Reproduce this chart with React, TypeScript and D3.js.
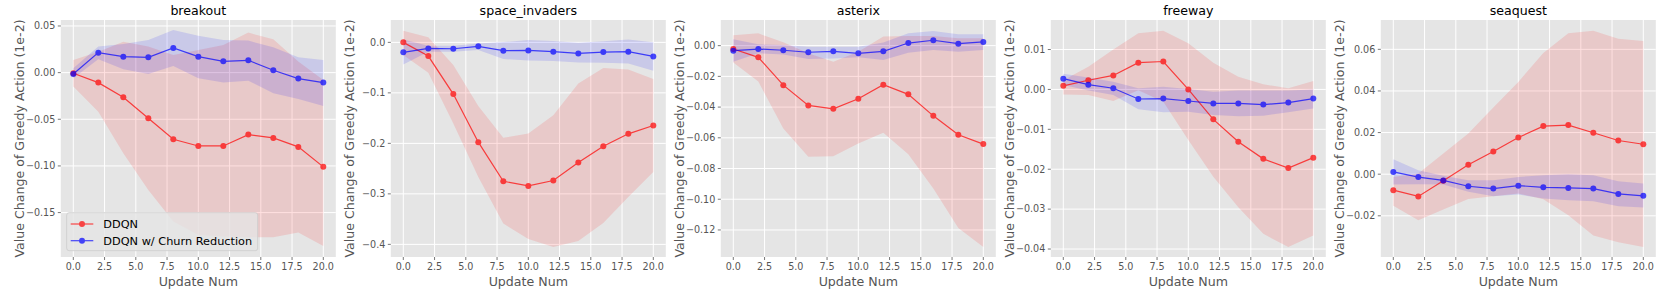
import * as d3 from "d3";

// x positions (update number)
const updateNums = [0, 2, 4, 6, 8, 10, 12, 14, 16, 18, 20];
const xTicks = [0, 2.5, 5, 7.5, 10, 12.5, 15, 17.5, 20];

const games = ["breakout", "space_invaders", "asterix", "freeway", "seaquest"];

// breakout
const breakoutDdqn = [-0.0007, -0.0107, -0.0264, -0.0489, -0.0714, -0.0786, -0.0786, -0.0664, -0.07, -0.0796, -0.101];
const breakoutDdqnHi = [0.0136, 0.0225, 0.0332, 0.0279, 0.0189, 0.0243, 0.0296, 0.0429, 0.0357, 0.0118, -0.0079];
const breakoutDdqnLo = [-0.015, -0.0418, -0.0864, -0.1257, -0.1596, -0.1739, -0.1757, -0.1764, -0.1764, -0.1714, -0.1857];
const breakoutChurn = [-0.0014, 0.0214, 0.0171, 0.0164, 0.0264, 0.0171, 0.0121, 0.0132, 0.0025, -0.0064, -0.0107];
const breakoutChurnHi = [0.0046, 0.0279, 0.0307, 0.035, 0.0457, 0.0396, 0.035, 0.0343, 0.0271, 0.0164, 0.0136];
const breakoutChurnLo = [-0.0061, 0.0143, 0.0036, -0.0014, 0.0071, -0.0061, -0.0107, -0.0086, -0.0221, -0.0282, -0.0357];
const breakoutYLim = [-0.1976, 0.0564];
const breakoutYTicks = [-0.15, -0.1, -0.05, 0, 0.05];

// space_invaders
const spaceDdqn = [0, -0.0271, -0.1024, -0.1976, -0.275, -0.2842, -0.2736, -0.2379, -0.2056, -0.1811, -0.1646];
const spaceDdqnHi = [0.0231, 0.0099, -0.0449, -0.1262, -0.189, -0.1804, -0.1441, -0.0813, -0.0509, -0.0535, -0.0727];
const spaceDdqnLo = [-0.0251, -0.0601, -0.1606, -0.2664, -0.3589, -0.3893, -0.4051, -0.3932, -0.3576, -0.3061, -0.2565];
const spaceChurn = [-0.0198, -0.0119, -0.0126, -0.0079, -0.0165, -0.0159, -0.0185, -0.0218, -0.0192, -0.0185, -0.0278];
const spaceChurnHi = [0.0059, -0.0066, -0.0066, -0.002, 0.0007, 0.0046, 0.0026, -0.0007, 0.002, 0.0059, 0];
const spaceChurnLo = [-0.0436, -0.0185, -0.0185, -0.0152, -0.033, -0.0357, -0.037, -0.0397, -0.0403, -0.0416, -0.0562];
const spaceYLim = [-0.425, 0.0443];
const spaceYTicks = [-0.4, -0.3, -0.2, -0.1, 0];

// asterix
const asterixDdqn = [-0.0022, -0.0076, -0.0257, -0.0389, -0.0411, -0.0346, -0.0254, -0.0317, -0.0457, -0.058, -0.0641];
const asterixDdqnHi = [0.0067, 0.008, 0.0022, -0.005, -0.0104, -0.0039, 0.0059, 0.0063, 0.0063, 0.0048, 0.0048];
const asterixDdqnLo = [-0.0109, -0.0233, -0.0539, -0.0724, -0.072, -0.0637, -0.0567, -0.0707, -0.093, -0.1187, -0.1311];
const asterixChurn = [-0.0033, -0.0022, -0.003, -0.0043, -0.0037, -0.005, -0.0037, 0.0017, 0.0035, 0.0013, 0.0024];
const asterixChurnHi = [0.0041, 0.0009, 0.0004, -0.0007, -0.0007, -0.0007, 0.002, 0.008, 0.0096, 0.0074, 0.0074];
const asterixChurnLo = [-0.0104, -0.005, -0.0057, -0.0087, -0.0083, -0.0076, -0.0093, -0.0046, -0.0028, -0.0039, -0.0028];
const asterixYLim = [-0.1376, 0.0167];
const asterixYTicks = [-0.12, -0.1, -0.08, -0.06, -0.04, -0.02, 0];

// freeway
const freewayDdqn = [0.0009, 0.0023, 0.0035, 0.0067, 0.007, 0, -0.0075, -0.0131, -0.0174, -0.0197, -0.0171];
const freewayDdqnHi = [0.0023, 0.0057, 0.01, 0.0141, 0.0147, 0.0116, 0.0067, 0.0032, 0.0013, 0.0003, 0.0021];
const freewayDdqnLo = [-0.0013, -0.0014, -0.0029, -0.0002, -0.0031, -0.0127, -0.0219, -0.0295, -0.0362, -0.0395, -0.0366];
const freewayChurn = [0.0027, 0.0012, 0.0003, -0.0024, -0.0023, -0.0029, -0.0035, -0.0035, -0.0038, -0.0033, -0.0023];
const freewayChurnHi = [0.0039, 0.003, 0.0019, 0.0003, 0.0007, 0.0001, -0.0006, -0.0003, -0.0003, -0.0003, 0];
const freewayChurnLo = [0.0011, -0.0003, -0.0014, -0.005, -0.0057, -0.0056, -0.0064, -0.0067, -0.0066, -0.0057, -0.0048];
const freewayYLim = [-0.042, 0.0174];
const freewayYTicks = [-0.04, -0.03, -0.02, -0.01, 0, 0.01];

// seaquest
const seaquestDdqn = [-0.0077, -0.0107, -0.0032, 0.0045, 0.0109, 0.0176, 0.0231, 0.0236, 0.0199, 0.0162, 0.0144];
const seaquestDdqnHi = [-0.0013, 0.0003, 0.01, 0.0196, 0.032, 0.0443, 0.0583, 0.0677, 0.0689, 0.0651, 0.064];
const seaquestDdqnLo = [-0.0152, -0.0221, -0.017, -0.0119, -0.0106, -0.0093, -0.012, -0.0197, -0.0295, -0.0327, -0.035];
const seaquestChurn = [0.0011, -0.0014, -0.003, -0.0058, -0.0069, -0.0055, -0.0063, -0.0066, -0.0069, -0.0095, -0.0104];
const seaquestChurnHi = [0.0072, 0.0019, -0.0008, -0.0029, -0.0029, -0.0013, -0.0005, 0, -0.0005, -0.0034, -0.0045];
const seaquestChurnLo = [-0.005, -0.0048, -0.005, -0.0085, -0.0106, -0.0098, -0.0117, -0.0125, -0.013, -0.0154, -0.016];
const seaquestYLim = [-0.0398, 0.0741];
const seaquestYTicks = [-0.02, 0, 0.02, 0.04, 0.06];

const seriesNames = ["DDQN", "DDQN w/ Churn Reduction"];
const seriesColors = ["red", "blue"];

const panels = [
  { mean: [breakoutDdqn, breakoutChurn], lo: [breakoutDdqnLo, breakoutChurnLo], hi: [breakoutDdqnHi, breakoutChurnHi], ylim: breakoutYLim, ticks: breakoutYTicks, fmt: ".2f" },
  { mean: [spaceDdqn, spaceChurn], lo: [spaceDdqnLo, spaceChurnLo], hi: [spaceDdqnHi, spaceChurnHi], ylim: spaceYLim, ticks: spaceYTicks, fmt: ".1f" },
  { mean: [asterixDdqn, asterixChurn], lo: [asterixDdqnLo, asterixChurnLo], hi: [asterixDdqnHi, asterixChurnHi], ylim: asterixYLim, ticks: asterixYTicks, fmt: ".2f" },
  { mean: [freewayDdqn, freewayChurn], lo: [freewayDdqnLo, freewayChurnLo], hi: [freewayDdqnHi, freewayChurnHi], ylim: freewayYLim, ticks: freewayYTicks, fmt: ".2f" },
  { mean: [seaquestDdqn, seaquestChurn], lo: [seaquestDdqnLo, seaquestChurnLo], hi: [seaquestDdqnHi, seaquestChurnHi], ylim: seaquestYLim, ticks: seaquestYTicks, fmt: ".2f" },
];

const W = 1661;
const H = 290;
const FONT = "DejaVu Sans, sans-serif";
const axLeft = 60.8;
const axStep = 330;
const axW = 275;
const axTop = 20;
const axBottom = 257;

const Panel = ({ idx }: { idx: number }) => {
  const p = panels[idx];
  const x0 = axLeft + idx * axStep;
  const x = d3.scaleLinear().domain([-1, 21]).range([x0, x0 + axW]);
  const y = d3.scaleLinear().domain(p.ylim).range([axBottom, axTop]);
  const fmt = d3.format(p.fmt);
  const line = d3.line<number>().x((_, i) => x(updateNums[i])).y(d => y(d));

  return (
    <g>
      <rect x={x0} y={axTop} width={axW} height={axBottom - axTop} fill="#E5E5E5" />
      {xTicks.map(t => (
        <line key={"gx" + t} x1={x(t)} x2={x(t)} y1={axTop} y2={axBottom} stroke="#fff" strokeWidth={1} />
      ))}
      {p.ticks.map(t => (
        <line key={"gy" + t} x1={x0} x2={x0 + axW} y1={y(t)} y2={y(t)} stroke="#fff" strokeWidth={1} />
      ))}
      {seriesColors.map((c, s) => {
        const area = d3.area<number>()
          .x(i => x(updateNums[i]))
          .y0(i => y(p.lo[s][i]))
          .y1(i => y(p.hi[s][i]));
        return <path key={"a" + s} d={area(updateNums.map((_, i) => i)) || ""} fill={c} fillOpacity={0.12} />;
      })}
      {seriesColors.map((c, s) => (
        <g key={"l" + s} opacity={0.7}>
          <path d={line(p.mean[s]) || ""} fill="none" stroke={c} strokeWidth={1.2} />
          {p.mean[s].map((v, i) => (
            <circle key={i} cx={x(updateNums[i])} cy={y(v)} r={3} fill={c} />
          ))}
        </g>
      ))}
      {/* x axis */}
      {xTicks.map(t => (
        <g key={"xt" + t}>
          <line x1={x(t)} x2={x(t)} y1={axBottom} y2={axBottom + 3} stroke="#555" strokeWidth={0.8} />
          <text x={x(t)} y={axBottom + 13} textAnchor="middle" fontSize={9.6} fill="#555" fontFamily={FONT}>
            {d3.format(".1f")(t)}
          </text>
        </g>
      ))}
      {/* y axis */}
      {p.ticks.map(t => (
        <g key={"yt" + t}>
          <line x1={x0 - 3} x2={x0} y1={y(t)} y2={y(t)} stroke="#555" strokeWidth={0.8} />
          <text x={x0 - 5.5} y={y(t)} dy="0.35em" textAnchor="end" fontSize={9.6} fill="#555" fontFamily={FONT}>
            {fmt(t)}
          </text>
        </g>
      ))}
      <text x={x0 + axW / 2} y={15} textAnchor="middle" fontSize={12.6} fill="#000" fontFamily={FONT}>
        {games[idx]}
      </text>
      <text x={x0 + axW / 2} y={286} textAnchor="middle" fontSize={12.6} fill="#555" fontFamily={FONT}>
        Update Num
      </text>
      <text
        transform={`translate(${x0 - 41},${(axTop + axBottom) / 2}) rotate(-90)`}
        textAnchor="middle"
        dy="0.35em"
        fontSize={12.6}
        fill="#555"
        fontFamily={FONT}
      >
        Value Change of Greedy Action (1e-2)
      </text>
      {idx === 0 && (
        <g>
          <rect x={66.7} y={212.7} width={191} height={38} rx={2.5} fill="#E5E5E5" fillOpacity={0.8} stroke="#ccc" strokeWidth={0.8} />
          {seriesNames.map((n, s) => (
            <g key={n} transform={`translate(0,${224 + s * 16.7})`}>
              <g opacity={0.7}>
                <line x1={70.7} x2={93.3} y1={0} y2={0} stroke={seriesColors[s]} strokeWidth={1.2} />
                <circle cx={82} cy={0} r={3} fill={seriesColors[s]} />
              </g>
              <text x={103.3} y={0} dy="0.35em" fontSize={11.3} fill="#000" fontFamily={FONT}>
                {n}
              </text>
            </g>
          ))}
        </g>
      )}
    </g>
  );
};

export default function App() {
  return (
    <svg width={W} height={H} style={{ position: "absolute", left: 0, top: 0, background: "#fff" }}>
      {games.map((_, i) => (
        <Panel key={i} idx={i} />
      ))}
    </svg>
  );
}
